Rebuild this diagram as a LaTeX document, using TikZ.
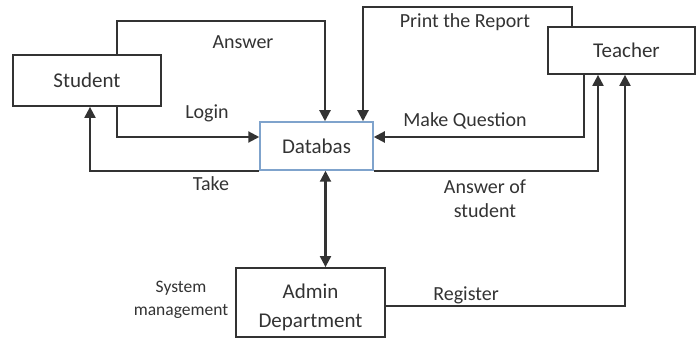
\documentclass[tikz,border=0pt]{standalone}
\usepackage{fontspec}
\setmainfont{Carlito}
\usepackage{tikz}
\usetikzlibrary{arrows.meta}
\definecolor{linegray}{HTML}{333333}
\definecolor{dbblue}{HTML}{7FA3CC}

\begin{document}
\begin{tikzpicture}[
   x=1pt,y=1pt,
   box/.style={draw=linegray,line width=1.8pt,inner sep=0pt,text=linegray,
     font=\fontsize{21}{29}\selectfont,align=center},
   flow/.style={-{Triangle[length=11pt,width=11pt]},line width=2.1pt,draw=linegray},
   dflow/.style={{Triangle[length=11pt,width=11pt]}-{Triangle[length=11pt,width=11pt]},line width=2.1pt,draw=linegray},
   lbl/.style={text=linegray,font=\fontsize{20}{24}\selectfont,align=center,inner sep=0pt},
   small/.style={text=linegray,font=\fontsize{17.5}{23}\selectfont,align=center,inner sep=0pt}]
\useasboundingbox (0,0) rectangle (696,340);
\node[box,minimum width=148pt,minimum height=51pt] (student) at (87,259.5) {Student};
\node[box,draw=dbblue,line width=1.5pt,minimum width=113pt,minimum height=48pt] (db) at (316.5,194) {Databas};
\node[box,minimum width=147pt,minimum height=47pt] (teacher) at (621.5,289.5) {\hspace*{10pt}Teacher};
\node[box,minimum width=149pt,minimum height=69pt,text height=55pt,text depth=5pt] (admin) at (310.5,37.5) {Admin\\Department};
% labels
\node[lbl] (answer) at (243,298) {Answer};
\node[lbl] (login) at (207,227) {Login};
\node[lbl] (take) at (211,156) {Take};
\node[lbl] (print) at (465,318) {Print the Report};
\node[lbl] (makeq) at (465,219) {Make Question};
\node[lbl] (ansstud) at (485,141) {Answer of\\student};
\node[lbl] (register) at (466,45) {Register};
\node[small] (sysman) at (181,40) {System\\management};
% flows
\draw[flow] ([xshift=30pt]student.north) -- ++(0,33) -| ([xshift=8.5pt]db.north);
\draw[flow] ([xshift=30pt]student.south) |- ([yshift=9pt]db.west);
\draw[flow] (db.south west) -| ([xshift=3pt]student.south);
\draw[flow] ([xshift=-49.5pt]teacher.north) -- ++(0,19) -| ([xshift=46.5pt]db.north);
\draw[flow] ([xshift=-37.5pt]teacher.south) |- ([yshift=9pt]db.east);
\draw[flow] (db.south east) -| ([xshift=-23.5pt]teacher.south);
\draw[dflow] ([xshift=9pt]db.south) -- ([xshift=9pt]db.south |- admin.north);
\draw[flow] ([yshift=-3.5pt]admin.east) -| ([xshift=3.5pt]teacher.south);
\end{tikzpicture}
\end{document}
